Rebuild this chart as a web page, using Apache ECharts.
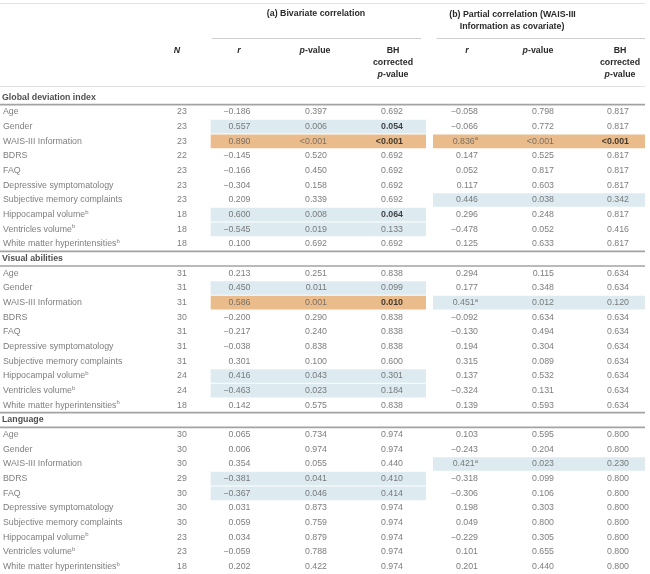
<!DOCTYPE html>
<html><head><meta charset="utf-8">
<script src="https://cdn.jsdelivr.net/npm/echarts@6/dist/echarts.min.js"></script>
<style>html,body{margin:0;padding:0;background:#fff}#c{width:650px;height:574px}</style>
</head><body><div id="c"></div>
<script>
// ---------------- DATA ----------------
const sections = ['Global deviation index', 'Visual abilities', 'Language'];
const predictors = ['Age', 'Gender', 'WAIS-III Information', 'BDRS', 'FAQ', 'Depressive symptomatology',
  'Subjective memory complaints', 'Hippocampal volume', 'Ventricles volume', 'White matter hyperintensities'];
const predictorNotes = ['', '', '', '', '', '', '', 'b', 'b', 'b'];

// Global deviation index
const nGlobal = [23, 23, 23, 22, 23, 23, 23, 18, 18, 18];
const rBivGlobal = [-0.186, 0.557, 0.890, -0.145, -0.166, -0.304, 0.209, 0.600, -0.545, 0.100];
const pBivGlobal = [0.397, 0.006, '<0.001', 0.520, 0.450, 0.158, 0.339, 0.008, 0.019, 0.692];
const bhBivGlobal = [0.692, 0.054, '<0.001', 0.692, 0.692, 0.692, 0.692, 0.064, 0.133, 0.692];
const rParGlobal = [-0.058, -0.066, 0.836, 0.147, 0.052, 0.117, 0.446, 0.296, -0.478, 0.125];
const pParGlobal = [0.798, 0.772, '<0.001', 0.525, 0.817, 0.603, 0.038, 0.248, 0.052, 0.633];
const bhParGlobal = [0.817, 0.817, '<0.001', 0.817, 0.817, 0.817, 0.342, 0.817, 0.416, 0.817];

// Visual abilities
const nVisual = [31, 31, 31, 30, 31, 31, 31, 24, 24, 18];
const rBivVisual = [0.213, 0.450, 0.586, -0.200, -0.217, -0.038, 0.301, 0.416, -0.463, 0.142];
const pBivVisual = [0.251, 0.011, 0.001, 0.290, 0.240, 0.838, 0.100, 0.043, 0.023, 0.575];
const bhBivVisual = [0.838, 0.099, 0.010, 0.838, 0.838, 0.838, 0.600, 0.301, 0.184, 0.838];
const rParVisual = [0.294, 0.177, 0.451, -0.092, -0.130, 0.194, 0.315, 0.137, -0.324, 0.139];
const pParVisual = [0.115, 0.348, 0.012, 0.634, 0.494, 0.304, 0.089, 0.532, 0.131, 0.593];
const bhParVisual = [0.634, 0.634, 0.120, 0.634, 0.634, 0.634, 0.634, 0.634, 0.634, 0.634];

// Language
const nLanguage = [30, 30, 30, 29, 30, 30, 30, 23, 23, 18];
const rBivLanguage = [0.065, 0.006, 0.354, -0.381, -0.367, 0.031, 0.059, 0.034, -0.059, 0.202];
const pBivLanguage = [0.734, 0.974, 0.055, 0.041, 0.046, 0.873, 0.759, 0.879, 0.788, 0.422];
const bhBivLanguage = [0.974, 0.974, 0.440, 0.410, 0.414, 0.974, 0.974, 0.974, 0.974, 0.974];
const rParLanguage = [0.103, -0.243, 0.421, -0.318, -0.306, 0.198, 0.049, -0.229, 0.101, 0.201];
const pParLanguage = [0.595, 0.204, 0.023, 0.099, 0.106, 0.303, 0.800, 0.305, 0.655, 0.440];
const bhParLanguage = [0.800, 0.800, 0.230, 0.800, 0.800, 0.800, 0.800, 0.800, 0.800, 0.800];

// superscript notes on partial r
const rParNotes = [
  ['Global deviation index', 'WAIS-III Information', 'a'],
  ['Visual abilities', 'WAIS-III Information', 'a'],
  ['Language', 'WAIS-III Information', 'a']
];
// shaded rows: [section, predictor, block (a|b), shade]
const highlights = [
  ['Global deviation index', 'Gender', 'a', 'blue'],
  ['Global deviation index', 'WAIS-III Information', 'a', 'orange'],
  ['Global deviation index', 'Hippocampal volume', 'a', 'blue'],
  ['Global deviation index', 'Ventricles volume', 'a', 'blue'],
  ['Global deviation index', 'WAIS-III Information', 'b', 'orange'],
  ['Global deviation index', 'Subjective memory complaints', 'b', 'blue'],
  ['Visual abilities', 'Gender', 'a', 'blue'],
  ['Visual abilities', 'WAIS-III Information', 'a', 'orange'],
  ['Visual abilities', 'Hippocampal volume', 'a', 'blue'],
  ['Visual abilities', 'Ventricles volume', 'a', 'blue'],
  ['Visual abilities', 'WAIS-III Information', 'b', 'blue'],
  ['Language', 'BDRS', 'a', 'blue'],
  ['Language', 'FAQ', 'a', 'blue'],
  ['Language', 'WAIS-III Information', 'b', 'blue']
];
// bold values: [section, predictor, column]
const boldCells = [
  ['Global deviation index', 'Gender', 'bhBiv'],
  ['Global deviation index', 'WAIS-III Information', 'bhBiv'],
  ['Global deviation index', 'Hippocampal volume', 'bhBiv'],
  ['Global deviation index', 'WAIS-III Information', 'bhPar'],
  ['Visual abilities', 'WAIS-III Information', 'bhBiv']
];

const tableData = {
  'Global deviation index': {n: nGlobal, rBiv: rBivGlobal, pBiv: pBivGlobal, bhBiv: bhBivGlobal, rPar: rParGlobal, pPar: pParGlobal, bhPar: bhParGlobal},
  'Visual abilities': {n: nVisual, rBiv: rBivVisual, pBiv: pBivVisual, bhBiv: bhBivVisual, rPar: rParVisual, pPar: pParVisual, bhPar: bhParVisual},
  'Language': {n: nLanguage, rBiv: rBivLanguage, pBiv: pBivLanguage, bhBiv: bhBivLanguage, rPar: rParLanguage, pPar: pParLanguage, bhPar: bhParLanguage}
};

// ---------------- LAYOUT / STYLE ----------------
const FONT = '"Liberation Sans", Arial, Helvetica, sans-serif';
const FS = 8.8;
const TXT = '#5c5c5c';
const COLX = {label: 3, sec: 2, n: 182, rBiv: 250.5, pBiv: 327, bhBiv: 403, rPar: 478, pPar: 554, bhPar: 629};
const BLOCK = {a: [210.7, 426], b: [433, 645]};
const SHADE = {blue: '#ddebf1', orange: '#eabb8b'};

// ---------------- BUILD ----------------
const rowKeys = [];
const rowIndex = {};
sections.forEach(sec => {
  rowIndex[sec + '|'] = rowKeys.length;
  rowKeys.push(sec + '|');
  predictors.forEach(p => { rowIndex[sec + '|' + p] = rowKeys.length; rowKeys.push(sec + '|' + p); });
});

function fmt(v) {
  if (typeof v === 'string') return v;
  return (v < 0 ? '\u2212' : '') + Math.abs(v).toFixed(3);
}
const isBold = (sec, p, col) => boldCells.some(b => b[0] === sec && b[1] === p && b[2] === col);
const noteOf = (sec, p) => { const f = rParNotes.find(r => r[0] === sec && r[1] === p); return f ? f[2] : ''; };

const cells = [];
sections.forEach(sec => {
  cells.push({x: COLX.sec, row: rowIndex[sec + '|'], text: '{s|' + sec + '}', align: 'left'});
  const d = tableData[sec];
  predictors.forEach((p, i) => {
    const row = rowIndex[sec + '|' + p];
    cells.push({x: COLX.label, row, text: '{n|' + p + '}' + (predictorNotes[i] ? '{sup|' + predictorNotes[i] + '}' : ''), align: 'left'});
    cells.push({x: COLX.n, row, text: '{n|' + d.n[i] + '}', align: 'center'});
    ['rBiv', 'pBiv', 'bhBiv', 'rPar', 'pPar', 'bhPar'].forEach(col => {
      let t = (isBold(sec, p, col) ? '{b|' : '{n|') + fmt(d[col][i]) + '}';
      if (col === 'rPar' && noteOf(sec, p)) t += '{sup|' + noteOf(sec, p) + '}';
      cells.push({x: COLX[col], row, text: t, align: 'right'});
    });
  });
});

const shadeData = highlights.map(h => ({value: [h[2] === 'a' ? 0 : 1, rowIndex[h[0] + '|' + h[1]]], shade: SHADE[h[3]]}));
// section rules: line above each section header (except first) and below each header
const ruleData = [];
sections.forEach((sec, k) => {
  const r = rowIndex[sec + '|'];
  if (k > 0) ruleData.push([r, -0.5]);
  ruleData.push([r, 0.5]);
});

const richBase = {
  n: {color: TXT, fontSize: FS, fontFamily: FONT, lineHeight: 11},
  b: {color: '#161616', fontSize: FS, fontFamily: FONT, fontWeight: 'bold', lineHeight: 11},
  s: {color: '#1e1e1e', fontSize: FS, fontFamily: FONT, fontWeight: 'bold', lineHeight: 11},
  sup: {color: TXT, fontSize: 6, fontFamily: FONT, verticalAlign: 'top', lineHeight: 11}
};

const hdrFont = 'bold ' + FS + 'px ' + FONT;
const hdrRich = {
  i: {fontStyle: 'italic', fontWeight: 'bold', fontSize: FS, fontFamily: FONT, fill: '#2a2a2a'},
  t: {fontWeight: 'bold', fontSize: FS, fontFamily: FONT, fill: '#2a2a2a'}
};
function hText(x, y, text) {
  return {type: 'text', x: x, y: y, silent: true, style: {text: text, font: hdrFont, fill: '#2a2a2a', textAlign: 'center', textVerticalAlign: 'middle', rich: hdrRich}};
}
function hLine(x1, x2, y, color) {
  return {type: 'line', silent: true, shape: {x1: x1, y1: y, x2: x2, y2: y}, style: {stroke: color, lineWidth: 1}};
}

const chart = echarts.init(document.getElementById('c'), null, {renderer: 'canvas'});
chart.setOption({
  backgroundColor: '#fff',
  animation: false,
  grid: {left: 0, right: 0, top: 90, bottom: 0},
  xAxis: {type: 'value', min: 0, max: 650, show: false},
  yAxis: {type: 'category', data: rowKeys, inverse: true, show: false},
  graphic: [
    hLine(0, 645, 3.5, '#e2e2e2'),
    hLine(211.7, 421, 38.5, '#d0d0d0'),
    hLine(436.7, 645, 38.5, '#d0d0d0'),
    hLine(0, 645, 86.5, '#e2e2e2'),
    hText(316, 14, '{t|(a) Bivariate correlation}'),
    hText(512.5, 14.5, '{t|(b) Partial correlation (WAIS-III}'),
    hText(512, 26.5, '{t|Information as covariate)}'),
    hText(177, 50.7, '{i|N}'),
    hText(239, 50.7, '{i|r}'),
    hText(315, 50.7, '{i|p}{t|-value}'),
    hText(393, 50.7, '{t|BH}'),
    hText(393, 62.5, '{t|corrected}'),
    hText(393, 74.2, '{i|p}{t|-value}'),
    hText(467, 50.7, '{i|r}'),
    hText(538, 50.7, '{i|p}{t|-value}'),
    hText(620, 50.7, '{t|BH}'),
    hText(620, 62.5, '{t|corrected}'),
    hText(620, 74.2, '{i|p}{t|-value}')
  ],
  series: [
    {
      type: 'custom', z: 1, silent: true,
      data: shadeData,
      renderItem: function (params, api) {
        const item = shadeData[params.dataIndex];
        const row = api.value(1);
        const span = BLOCK[api.value(0) === 0 ? 'a' : 'b'];
        const p0 = api.coord([span[0], row]);
        const p1 = api.coord([span[1], row]);
        const h = api.size([0, 1])[1];
        return {type: 'rect', shape: {x: p0[0], y: p0[1] - h / 2 + 0.5, width: p1[0] - p0[0], height: h - 1}, style: {fill: item.shade}};
      }
    },
    {
      type: 'custom', z: 3, silent: true,
      data: ruleData,
      renderItem: function (params, api) {
        const row = api.value(0), off = api.value(1);
        const h = api.size([0, 1])[1];
        const a = api.coord([0, row]), b = api.coord([645, row]);
        const y = a[1] + off * h;
        return {type: 'line', shape: {x1: a[0], y1: y, x2: b[0], y2: y}, style: {stroke: '#a3a3a3', lineWidth: 1.6}};
      }
    },
    {
      type: 'scatter', z: 4, silent: true,
      symbolSize: 0,
      data: cells.map(c => ({value: [c.x, c.row], label: {align: c.align}})),
      label: {
        show: true, position: 'inside', verticalAlign: 'middle',
        color: TXT, fontSize: FS, fontFamily: FONT,
        formatter: p => cells[p.dataIndex].text,
        rich: richBase
      },
      emphasis: {disabled: true}
    }
  ]
});
</script></body></html>
